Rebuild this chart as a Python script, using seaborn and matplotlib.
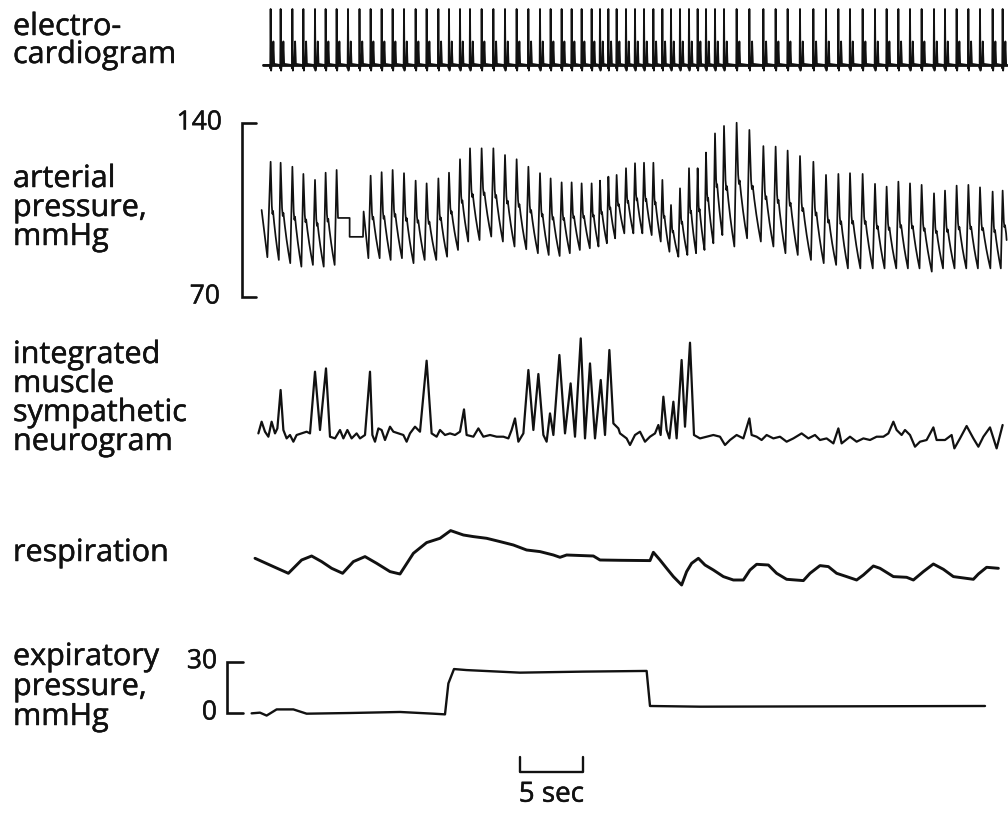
import numpy as np
import matplotlib
matplotlib.use("Agg")
import matplotlib.pyplot as plt
import matplotlib.patheffects as pe
import seaborn as sns

sns.set_style("white")
plt.rcParams['font.family'] = ['Open Sans', 'DejaVu Sans']

beat_t = [1.01, 1.81, 2.75, 3.63, 4.56, 5.41, 6.29, 7.20, 8.12, 9.01,
          9.89, 10.77, 11.68, 12.61, 13.49, 14.43, 15.28, 16.16, 16.96, 17.89,
          18.83, 19.76, 20.69, 21.63, 22.56, 23.41, 24.29, 25.09, 25.89, 26.69,
          27.36, 28.03, 28.69, 29.44, 30.16, 30.88, 31.63, 32.35, 33.04, 33.76,
          34.48, 35.17, 35.84, 36.56, 37.28, 38.29, 39.31, 40.43, 41.41, 42.37,
          43.36, 44.43, 45.44, 46.43, 47.36, 48.37, 49.36, 50.29, 51.23, 52.16,
          53.09, 54.08, 54.96, 55.89, 56.83, 57.76, 58.77, 59.57]

# systolic peaks and following troughs, mmHg (nan = calibration step)
nan = float('nan')
sys_p = [124.4, 124.0, 122.4, 119.5, 117.1, 120.0, 121.1, nan, nan, 118.8,
         120.2, 121.1, 119.8, 116.8, 115.7, 117.7, 120.0, 125.4, 129.8, 129.8,
         129.8, 127.1, 125.4, 122.4, 119.8, 117.7, 116.1, 116.1, 115.7, 115.7,
         116.8, 118.4, 119.1, 121.8, 123.8, 124.0, 124.0, 117.1, 107.0, 113.7,
         121.8, 121.8, 128.1, 135.8, 138.8, 140.1, 137.2, 130.7, 130.5, 128.9,
         126.7, 124.4, 119.1, 119.5, 119.8, 119.5, 115.5, 114.4, 116.4, 115.7,
         115.1, 111.7, 112.8, 114.8, 115.1, 114.1, 112.4, 112.8]
dia_p = [84.9, 83.6, 82.2, 82.9, 82.2, 82.9, nan, nan, nan, 85.6,
         84.9, 85.6, 83.6, 84.9, 84.9, 86.2, 88.9, 92.3, 92.9, 94.3,
         92.3, 90.3, 89.2, 87.6, 86.9, 86.5, 87.6, 88.9, 89.6, 90.3,
         91.6, 93.6, 95.6, 95.6, 95.6, 94.9, 92.3, 88.2, 86.2, 86.9,
         87.6, 88.9, 91.6, 94.9, 90.3, 93.6, 92.3, 90.3, 87.6, 86.9,
         84.9, 83.6, 82.9, 81.5, 81.5, 81.5, 81.5, 81.5, 81.5, 81.5,
         80.2, 81.5, 81.5, 81.5, 81.5, 81.5, 81.5, 85.0]
press_lead_t = [0.29, 0.75]
press_lead_p = [105.0, 86.0]
cal_t = [6.40, 7.33, 7.33, 8.40, 8.45, 8.83]
cal_p = [101.8, 101.8, 94.2, 94.2, 104.4, 85.6]
press_end_t, press_end_p = 59.89, 92.9

# integrated muscle sympathetic neurogram (arbitrary units)
nerve_t = [0.03, 0.29, 0.56, 0.83, 1.09, 1.36, 1.55, 1.81, 2.03, 2.29,
           2.56, 2.83, 3.09, 3.49, 3.89, 4.16, 4.56, 4.96, 5.44, 5.76,
           6.16, 6.56, 6.83, 7.15, 7.49, 7.89, 8.16, 8.56, 8.96, 9.15,
           9.36, 9.63, 9.89, 10.16, 10.56, 10.83, 11.23, 11.63, 11.89, 12.16,
           12.56, 12.96, 13.49, 13.89, 14.29, 14.56, 14.96, 15.36, 15.76, 16.16,
           16.48, 16.69, 17.23, 17.63, 18.03, 18.56, 19.09, 19.63, 20.03, 20.29,
           20.56, 20.83, 21.23, 21.63, 22.03, 22.43, 22.83, 23.09, 23.36, 23.63,
           24.11, 24.56, 25.01, 25.36, 25.82, 26.16, 26.56, 26.96, 27.42, 27.76,
           28.11, 28.43, 28.83, 28.96, 29.49, 29.76, 30.16, 30.56, 30.96, 31.36,
           31.76, 32.03, 32.21, 32.43, 32.69, 32.91, 33.23, 33.49, 33.89, 34.16,
           34.56, 34.88, 35.36, 35.89, 36.43, 36.96, 37.36, 37.76, 38.29, 38.83,
           39.31, 39.49, 39.89, 40.29, 40.69, 41.23, 41.76, 42.29, 42.83, 43.49,
           44.03, 44.56, 44.96, 45.49, 46.03, 46.43, 46.69, 47.36, 47.89, 48.43,
           48.96, 49.49, 50.03, 50.43, 50.83, 51.09, 51.49, 51.76, 52.16, 52.56,
           52.96, 53.49, 54.03, 54.29, 54.96, 55.49, 55.71, 56.16, 56.69, 57.23,
           57.63, 58.03, 58.56, 58.96, 59.09, 59.57]
nerve_v = [0.33, 1.5, 0.5, 0.0, 1.5, 0.33, 0.83, 4.67, 0.67, -0.17,
           0.17, -0.5, 0.17, 0.33, 0.5, 0.33, 6.5, 0.67, 6.83, 0.0,
           -0.17, 0.67, -0.17, 0.67, -0.17, 0.33, -0.17, 0.17, 6.5, 0.17,
           -0.5, 0.83, 0.67, -0.33, 1.0, 0.5, 0.33, 0.17, -0.5, 0.33,
           1.0, 0.5, 7.6, 0.33, 0.0, 0.67, 0.17, 0.33, 0.17, 0.5,
           2.73, 0.17, 0.0, 0.83, 0.0, 0.17, 0.0, 0.0, -0.17, 0.67,
           1.83, -0.5, 0.33, 6.67, 0.67, 6.27, 0.17, -0.5, 2.33, 0.17,
           8.17, 0.33, 5.33, 0.0, 9.83, -0.17, 7.33, -0.17, 5.67, 0.17,
           8.67, 1.33, 0.83, 0.33, -0.17, -0.83, 0.17, 0.5, -0.5, 0.0,
           0.33, 1.17, 0.17, 4.0, 0.67, -0.17, 3.5, -0.17, 7.67, 1.0,
           9.4, 0.17, -0.17, 0.0, 0.17, 0.0, -0.83, -0.33, 0.17, -0.17,
           1.83, 0.17, 0.0, -0.33, 0.17, -0.17, 0.0, -0.5, -0.17, 0.33,
           -0.17, 0.17, -0.33, -0.17, -0.67, 0.83, -0.67, 0.0, -0.5, -0.17,
           -0.33, 0.0, 0.0, 0.33, 1.5, 0.67, 0.17, 0.67, 0.17, -1.0,
           -0.5, -0.33, 0.93, -0.33, -0.33, 0.17, -1.17, -0.17, 1.07, -0.17,
           -1.0, 0.0, 0.93, -0.67, -1.17, 1.17]

# respiration (arbitrary units)
resp_t = [-0.24, 1.23, 2.43, 3.49, 4.29, 5.09, 5.89, 6.77, 7.63, 8.56,
          9.49, 10.56, 11.36, 12.43, 13.49, 14.56, 15.41, 16.43, 17.23, 18.29,
          19.36, 20.43, 21.49, 22.56, 23.63, 24.16, 24.69, 26.83, 27.36, 28.96,
          31.36, 31.63, 32.16, 32.69, 33.23, 33.89, 34.29, 34.69, 35.23, 35.76,
          36.43, 37.23, 38.03, 38.83, 39.36, 39.89, 40.83, 41.49, 42.29, 43.63,
          44.16, 44.96, 45.63, 46.29, 47.09, 47.89, 48.43, 49.23, 49.76, 50.83,
          51.89, 52.43, 53.23, 54.03, 54.83, 55.63, 57.23, 57.63, 58.29, 59.23]
resp_v = [-0.5, -1.33, -2.0, -0.67, -0.27, -0.83, -1.5, -2.0, -0.83, -0.33,
          -1.0, -1.83, -2.07, 0.0, 1.07, 1.5, 2.27, 1.83, 1.67, 1.5,
          1.17, 0.83, 0.33, 0.17, -0.17, -0.4, -0.17, -0.27, -0.67, -0.7,
          -0.73, 0.1, -0.67, -1.5, -2.33, -3.17, -1.83, -1.0, -0.5, -1.17,
          -1.67, -2.33, -2.67, -2.67, -1.67, -1.1, -1.17, -2.0, -2.6, -2.73,
          -2.0, -1.23, -1.33, -2.0, -2.33, -2.67, -2.17, -1.27, -1.5, -2.33,
          -2.4, -2.67, -1.83, -1.07, -1.6, -2.33, -2.6, -2.07, -1.4, -1.5]

# expiratory pressure, mmHg
exp_t = [-0.51, 0.16, 0.69, 1.49, 2.83, 3.89, 7.36, 11.36, 14.03, 14.96,
         15.23, 15.68, 16.69, 20.96, 26.03, 31.09, 31.36, 35.36, 58.16]
exp_p = [-0.2, 0.2, -1.5, 2.1, 2.1, -0.4, 0.0, 0.6, -0.4, -0.8,
         17.3, 25.7, 25.1, 23.6, 24.2, 24.6, 4.1, 3.7, 4.1]

# ECG beat template (offset s, relative height)
ecg_off = [-0.07, -0.03, 0.0, 0.04, 0.08, 0.16, 0.22, 0.28]
ecg_amp = [0.0, -0.06, 1.0, -0.1, 0.0, 0.02, 0.42, 0.02]
ecg_start, ecg_end = 0.43, 59.89
# pressure decay template (fraction of beat interval, fraction of pulse)
decay_f = [0.05, 0.12, 0.18, 0.24, 0.35, 0.50, 0.65, 0.82]
decay_k = [0.80, 0.55, 0.47, 0.50, 0.38, 0.24, 0.12, 0.0]

W, H = 1008, 813
LEFT_PX, T0, T1, PX_PER_S = 220.5, -3.0, 60.0, 12.5
INK = '#111111'
LABEL_FX = [pe.withStroke(linewidth=0.35, foreground=INK)]

fig = plt.figure(figsize=(W / 100, H / 100), dpi=100)


def track(top, bottom, ref_px, ref_val, px_per_unit):
    ax = fig.add_axes([LEFT_PX / W, 1 - bottom / H, (T1 - T0) * PX_PER_S / W,
                       (bottom - top) / H])
    ax.set_xlim(T0, T1)
    ax.set_ylim(ref_val - (bottom - ref_px) / px_per_unit,
                ref_val + (ref_px - top) / px_per_unit)
    ax.set_axis_off()
    return ax


def trace(ax, x, y, lw):
    sns.lineplot(x=np.asarray(x, float), y=np.asarray(y, float), ax=ax, color=INK,
                 linewidth=lw, sort=False, estimator=None)


ax_ecg = track(0, 85, 65, 0.0, 56.0)
ax_bp = track(95, 320, 297, 70.0, 2.486)
ax_msna = track(320, 470, 436.7, 0.0, 10.0)
ax_resp = track(490, 610, 553.3, 0.0, 10.0)
ax_exp = track(630, 735, 713, 0.0, 1.71)
ax_bar = track(740, 813, 813, 0.0, 1.0)

# ECG
et, ev = [ecg_start], [0.0]
for tb in beat_t:
    et += [tb + o for o in ecg_off]
    ev += ecg_amp
et.append(ecg_end)
ev.append(0.0)
ax_ecg.plot([ecg_start, ecg_end], [0, 0], color=INK, lw=2.0)
trace(ax_ecg, et, ev, 1.3)

# arterial pressure
pt, pp = list(press_lead_t), list(press_lead_p)
n = len(beat_t)
for i in range(n):
    if np.isnan(sys_p[i]):
        continue
    t0, s, d = beat_t[i], sys_p[i], dia_p[i]
    pt.append(t0)
    pp.append(s)
    if i + 1 < n and np.isnan(sys_p[i + 1]):
        pt += cal_t
        pp += cal_p
        continue
    dt = beat_t[i + 1] - t0 if i + 1 < n else t0 - beat_t[i - 1]
    for f, k in zip(decay_f, decay_k):
        if t0 + f * dt < press_end_t:
            pt.append(t0 + f * dt)
            pp.append(d + k * (s - d))
pt.append(press_end_t)
pp.append(press_end_p)
trace(ax_bp, pt, pp, 1.25)

# calibration bracket for pressure
ax_bp.plot([-0.16, -1.3, -1.3, -0.16], [140, 140, 70, 70], color=INK, lw=1.9,
           solid_joinstyle='miter')
for val, xt, s in [(140, -2.88, "140"), (70, -3.04, "70")]:
    ax_bp.text(xt, val, s, ha='right', va='center', fontsize=19, color=INK,
               path_effects=LABEL_FX)

trace(ax_msna, nerve_t, nerve_v, 1.6)
trace(ax_resp, resp_t, resp_v, 2.1)
trace(ax_exp, exp_t, exp_p, 1.7)

ax_exp.plot([-1.2, -2.5, -2.5, -1.2], [30, 30, 0, 0], color=INK, lw=1.9,
            solid_joinstyle='miter')
for val, s in [(30, "30"), (0, "0")]:
    ax_exp.text(-3.28, val, s, ha='right', va='center', fontsize=19, color=INK,
                path_effects=LABEL_FX)

# 5 s time bar
ax_bar.plot([20.96, 20.96, 25.96, 25.96], [56.3, 41.3, 41.3, 56.3], color=INK, lw=1.7)
ax_bar.text(23.46, 11.3, "5 sec", ha='center', va='baseline', fontsize=20, color=INK,
            path_effects=LABEL_FX)

labels = [("electro-", 35), ("cardiogram", 63),
          ("arterial", 187), ("pressure,", 216), ("mmHg", 245),
          ("integrated", 363), ("muscle", 392), ("sympathetic", 421), ("neurogram", 450),
          ("respiration", 561),
          ("expiratory", 665), ("pressure,", 695), ("mmHg", 725)]
for s, yb in labels:
    fig.text(13 / W, 1 - yb / H, s, fontsize=22, va='baseline', ha='left', color=INK,
             path_effects=LABEL_FX)

fig.savefig("out.png", dpi=100, facecolor='white')
